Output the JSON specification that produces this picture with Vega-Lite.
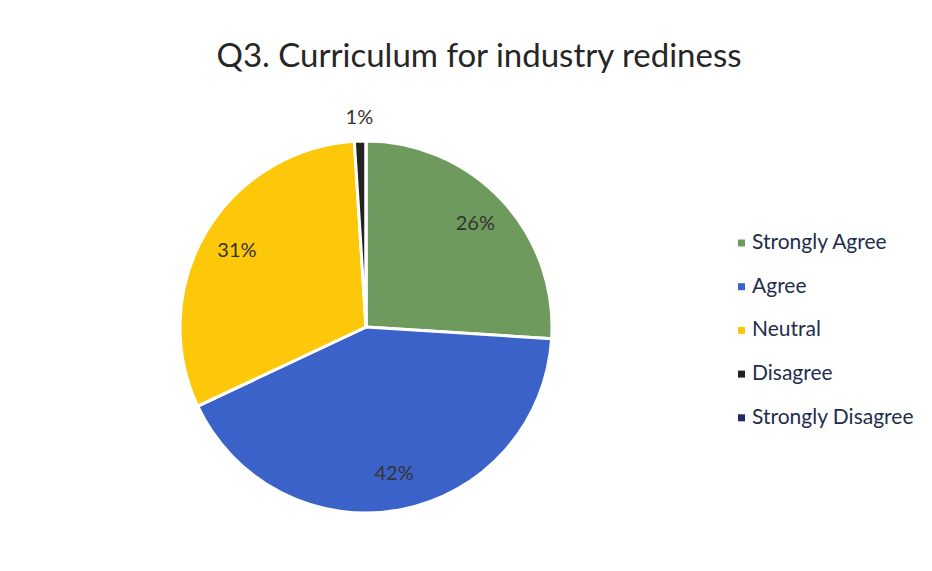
{
  "$schema": "https://vega.github.io/schema/vega-lite/v6.json",
  "width": 372,
  "height": 372,
  "autosize": {"type": "none"},
  "padding": {"left": 180, "top": 141, "right": 380, "bottom": 58},
  "background": "white",
  "title": {
    "text": "Q3. Curriculum for industry rediness",
    "font": "Lato",
    "fontSize": 33,
    "fontWeight": "normal",
    "color": "#262626",
    "anchor": "middle",
    "frame": "group",
    "dx": 113,
    "dy": 66,
    "offset": 74,
    "baseline": "alphabetic"
  },
  "data": {
    "values": [
      {"response": "Strongly Agree", "pct": 0.26, "idx": 1},
      {"response": "Agree", "pct": 0.42, "idx": 2},
      {"response": "Neutral", "pct": 0.31, "idx": 3},
      {"response": "Disagree", "pct": 0.01, "idx": 4},
      {"response": "Strongly Disagree", "pct": 0, "idx": 5}
    ]
  },
  "encoding": {
    "theta": {"field": "pct", "type": "quantitative", "stack": true},
    "order": {"field": "idx", "type": "quantitative"}
  },
  "layer": [
    {
      "mark": {"type": "arc", "outerRadius": 186, "stroke": "white", "strokeWidth": 3},
      "encoding": {
        "color": {
          "field": "response",
          "type": "nominal",
          "sort": ["Strongly Agree", "Agree", "Neutral", "Disagree", "Strongly Disagree"],
          "scale": {
            "domain": ["Strongly Agree", "Agree", "Neutral", "Disagree", "Strongly Disagree"],
            "range": ["#6f9a5e", "#3b62c9", "#fdc80a", "#222222", "#1f2a6b"]
          },
          "legend": {
            "orient": "none",
            "legendX": 551,
            "legendY": 91.5,
            "title": null,
            "padding": 0,
            "symbolType": "square",
            "symbolSize": 49,
            "symbolStrokeWidth": 0,
            "labelFont": "Lato",
            "labelFontSize": 21,
            "labelColor": "#1f2d4d",
            "labelOffset": 0,
            "labelLimit": 300,
            "rowPadding": 21.7
          }
        }
      }
    },
    {
      "mark": {"type": "text", "radius": 150, "font": "Lato", "fontSize": 20},
      "encoding": {
        "detail": {"field": "response", "type": "nominal"},
        "color": {"value": "#333333"},
        "text": {
          "condition": {"test": "datum.pct < 0.05", "value": ""},
          "field": "pct",
          "type": "quantitative",
          "format": ".0%"
        }
      }
    },
    {
      "mark": {"type": "text", "radius": 209, "font": "Lato", "fontSize": 20},
      "encoding": {
        "detail": {"field": "response", "type": "nominal"},
        "color": {"value": "#333333"},
        "text": {
          "condition": {"test": "datum.pct >= 0.05 || datum.pct == 0", "value": ""},
          "field": "pct",
          "type": "quantitative",
          "format": ".0%"
        }
      }
    }
  ]
}
